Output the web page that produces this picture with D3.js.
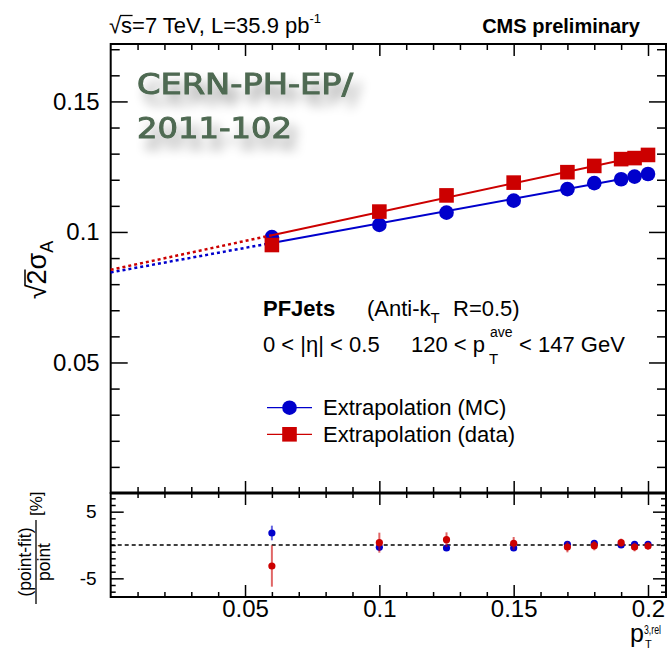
<!DOCTYPE html>
<html><head><meta charset="utf-8">
<script src="https://cdn.jsdelivr.net/npm/d3@7"></script>
<style>
body{margin:0;background:#fff}
svg{display:block}
text{font-family:"Liberation Sans",Arial,Helvetica,sans-serif;fill:#000}
</style>
</head><body>
<svg id="c" width="667" height="653"></svg>
<script>
// ---------------- data ----------------
const ptBins      = [0.06, 0.1, 0.125, 0.15, 0.17, 0.18, 0.19, 0.195, 0.2];
const mcValues    = [0.0980, 0.1027, 0.1074, 0.1120, 0.1164, 0.1187, 0.1202, 0.1212, 0.1222];
const dataValues  = [0.0950, 0.1078, 0.1140, 0.1189, 0.1229, 0.1253, 0.1279, 0.1283, 0.1295];
const mcFit       = [0.0845, 0.188];   // intercept, slope
const dataFit     = [0.0855, 0.221];
const fitRange    = [0.06, 0.2];
const mcResid     = [1.8, -0.35, -0.45, -0.45, 0.1, 0.25, 0.0, 0.1, 0.1];
const mcResidErr  = [1.1, 0.5, 0.4, 0.35, 0.3, 0.3, 0.3, 0.3, 0.3];
const dataResid   = [-3.15, 0.35, 0.8, 0.25, -0.3, -0.1, 0.35, -0.3, -0.15];
const dataResidErr= [3.1, 1.5, 1.1, 0.95, 0.8, 0.7, 0.6, 0.65, 0.55];
const xTickLabels    = [0.05, 0.1, 0.15, 0.2];
const yTopTickLabels = [0.05, 0.1, 0.15];
const yBotTickLabels = [-5, 5];
const legendLabels   = ["Extrapolation (MC)", "Extrapolation (data)"];

// ---------------- layout ----------------
const svg = d3.select("#c");
const X0 = 110.7, X1 = 666;
const TOP0 = 44, SPLIT = 493, BOT1 = 597;
const BLUE = "#0000cc", RED = "#cc0000";

const x = d3.scaleLinear().domain([0, 0.2067]).range([X0, X1]);
const yTop = d3.scaleLinear().domain([0, 0.172]).range([SPLIT, TOP0]);
const yBot = d3.scaleLinear().domain([-7.8, 7.8]).range([BOT1, SPLIT]);

const xMinor = d3.range(0.01, 0.2065, 0.01).filter(v => Math.abs(v*20 - Math.round(v*20)) > 1e-6);
const yTopMinor = d3.range(0.01, 0.1715, 0.01).filter(v => Math.abs(v*20 - Math.round(v*20)) > 1e-6);
const yBotMinor = d3.range(-7, 7.5, 1).filter(v => v % 5 !== 0 || v === 0);

// defs: watermark shadow
const defs = svg.append("defs");
const f = defs.append("filter").attr("id","sh").attr("x","-30%").attr("y","-60%").attr("width","160%").attr("height","260%");
f.append("feGaussianBlur").attr("in","SourceAlpha").attr("stdDeviation",6).attr("result","b");
f.append("feOffset").attr("in","b").attr("dx",7).attr("dy",10).attr("result","o");
f.append("feComponentTransfer").attr("in","o").attr("result","o2")
  .append("feFuncA").attr("type","linear").attr("slope",0.38);
const fm = f.append("feMerge");
fm.append("feMergeNode").attr("in","o2");
fm.append("feMergeNode").attr("in","SourceGraphic");

function axisStyle(g){
  g.select(".domain").remove();
  g.selectAll(".tick line").attr("stroke","#000").attr("stroke-width",1.5);
}
function addAxis(axis, tr, fontSize){
  const g = svg.append("g").attr("transform", tr).call(axis).call(axisStyle);
  g.attr("font-family", null).attr("font-size", null);
  g.selectAll("text").attr("font-size", fontSize);
  return g;
}
// ---- top panel axes ----
addAxis(d3.axisLeft(yTop).tickValues(yTopTickLabels).tickSize(-17).tickPadding(11).tickFormat(d=>String(d)), `translate(${X0},0)`, 24);
addAxis(d3.axisLeft(yTop).tickValues(yTopMinor).tickSize(-9).tickFormat(""), `translate(${X0},0)`, 0);
addAxis(d3.axisRight(yTop).tickValues(yTopTickLabels).tickSize(-17).tickFormat(""), `translate(${X1},0)`, 0);
addAxis(d3.axisRight(yTop).tickValues(yTopMinor).tickSize(-9).tickFormat(""), `translate(${X1},0)`, 0);
addAxis(d3.axisTop(x).tickValues(xTickLabels).tickSize(-12).tickFormat(""), `translate(0,${TOP0})`, 0);
addAxis(d3.axisTop(x).tickValues(xMinor).tickSize(-6).tickFormat(""), `translate(0,${TOP0})`, 0);
addAxis(d3.axisBottom(x).tickValues(xTickLabels).tickSize(-12).tickFormat(""), `translate(0,${SPLIT})`, 0);
addAxis(d3.axisBottom(x).tickValues(xMinor).tickSize(-6).tickFormat(""), `translate(0,${SPLIT})`, 0);

// ---- bottom panel axes ----
addAxis(d3.axisLeft(yBot).tickValues(yBotTickLabels).tickSize(-13).tickPadding(14).tickFormat(d=>String(d)), `translate(${X0},0)`, 19);
addAxis(d3.axisLeft(yBot).tickValues(yBotMinor).tickSize(-5).tickFormat(""), `translate(${X0},0)`, 0);
addAxis(d3.axisRight(yBot).tickValues(yBotTickLabels).tickSize(-13).tickFormat(""), `translate(${X1},0)`, 0);
addAxis(d3.axisRight(yBot).tickValues(yBotMinor).tickSize(-5).tickFormat(""), `translate(${X1},0)`, 0);
addAxis(d3.axisTop(x).tickValues(xTickLabels).tickSize(-12).tickFormat(""), `translate(0,${SPLIT})`, 0);
addAxis(d3.axisTop(x).tickValues(xMinor).tickSize(-5).tickFormat(""), `translate(0,${SPLIT})`, 0);
addAxis(d3.axisBottom(x).tickValues(xTickLabels).tickSize(-12).tickPadding(3).tickFormat(d=>String(d)), `translate(0,${BOT1})`, 24);
addAxis(d3.axisBottom(x).tickValues(xMinor).tickSize(-5).tickFormat(""), `translate(0,${BOT1})`, 0);

// frames
svg.append("rect").attr("x",X0).attr("y",TOP0).attr("width",X1-X0).attr("height",SPLIT-TOP0)
  .attr("fill","none").attr("stroke","#000").attr("stroke-width",2);
svg.append("rect").attr("x",X0).attr("y",SPLIT).attr("width",X1-X0).attr("height",BOT1-SPLIT)
  .attr("fill","none").attr("stroke","#000").attr("stroke-width",2);
svg.append("line").attr("x1",X0).attr("x2",X1).attr("y1",SPLIT).attr("y2",SPLIT).attr("stroke","#000").attr("stroke-width",3);

// ---- watermark ----
const wm = svg.append("g").attr("filter","url(#sh)");
[["CERN-PH-EP/",94,216],["2011-102",138,155]].forEach(([s,yy,len])=>{
  wm.append("text").attr("x",137).attr("y",yy).attr("font-size",28)
    .style("font-family","'DejaVu Sans',sans-serif").style("fill","#4f6a52")
    .attr("stroke","#4f6a52").attr("stroke-width",1.0)
    .attr("textLength",len).attr("lengthAdjust","spacingAndGlyphs").text(s);
});

// ---- fit lines ----
function fitVal(p, xv){ return p[0] + p[1]*xv; }
function drawFit(p, color){
  svg.append("line").attr("x1",x(0)).attr("y1",yTop(fitVal(p,0)))
    .attr("x2",x(fitRange[0])).attr("y2",yTop(fitVal(p,fitRange[0])))
    .attr("stroke",color).attr("stroke-width",2.5).attr("stroke-dasharray","3,3");
  svg.append("line").attr("x1",x(fitRange[0])).attr("y1",yTop(fitVal(p,fitRange[0])))
    .attr("x2",x(fitRange[1])).attr("y2",yTop(fitVal(p,fitRange[1])))
    .attr("stroke",color).attr("stroke-width",2);
}
drawFit(mcFit, BLUE);
svg.append("g").selectAll("circle").data(ptBins).join("circle")
  .attr("cx",d=>x(d)).attr("cy",(d,i)=>yTop(mcValues[i])).attr("r",7.3).attr("fill",BLUE);
drawFit(dataFit, RED);
svg.append("g").selectAll("rect").data(ptBins).join("rect")
  .attr("x",d=>x(d)-7.3).attr("y",(d,i)=>yTop(dataValues[i])-7.3)
  .attr("width",14.6).attr("height",14.6).attr("fill",RED);

// ---- residual panel ----
svg.append("line").attr("x1",X0).attr("x2",X1).attr("y1",yBot(0)).attr("y2",yBot(0))
  .attr("stroke","#000").attr("stroke-width",1.3).attr("stroke-dasharray","4,3");
function drawResid(vals, errs, color){
  const g = svg.append("g");
  g.selectAll("line").data(ptBins).join("line")
    .attr("x1",d=>x(d)).attr("x2",d=>x(d))
    .attr("y1",(d,i)=>yBot(vals[i]-errs[i])).attr("y2",(d,i)=>yBot(vals[i]+errs[i]))
    .attr("stroke",color).attr("stroke-opacity",0.6).attr("stroke-width",2);
  g.selectAll("circle").data(ptBins).join("circle")
    .attr("cx",d=>x(d)).attr("cy",(d,i)=>yBot(vals[i])).attr("r",3.6).attr("fill",color);
}
drawResid(mcResid, mcResidErr, BLUE);
drawResid(dataResid, dataResidErr, RED);

// ---- header ----
const hl = svg.append("text").attr("x",109).attr("y",33).attr("font-size",22);
hl.append("tspan").text("√s=7 TeV, L=35.9 pb");
hl.append("tspan").attr("font-size",13).attr("dy",-10).attr("dx",0).text("-1");
{
  const n = hl.node();
  const s0 = n.getStartPositionOfChar(1), e0 = n.getEndPositionOfChar(1);
  svg.append("line").attr("x1",s0.x-1).attr("x2",e0.x+0.5).attr("y1",15.5).attr("y2",15.5)
    .attr("stroke","#000").attr("stroke-width",1.3);
}
svg.append("text").attr("x",640).attr("y",33).attr("font-size",20).attr("font-weight","bold")
  .attr("text-anchor","end").text("CMS preliminary");

// ---- y title top ----
{
  const g = svg.append("g").attr("transform","translate(46,270) rotate(-90)");
  const t = g.append("text").attr("text-anchor","middle").attr("font-size",27);
  t.append("tspan").text("√2σ");
  t.append("tspan").attr("font-size",18).attr("dy",7).text("A");
  const n = t.node();
  const s = n.getStartPositionOfChar(1), e = n.getEndPositionOfChar(1);
  g.append("line").attr("x1",s.x-1).attr("x2",e.x).attr("y1",-21).attr("y2",-21)
    .attr("stroke","#000").attr("stroke-width",1.5);
}

// ---- y title bottom (fraction) ----
{
  const g = svg.append("g").attr("transform","translate(36,562) rotate(-90)");
  g.append("text").attr("text-anchor","middle").attr("y",-5).attr("font-size",17.5).text("(point-fit)");
  g.append("text").attr("text-anchor","middle").attr("y",14).attr("font-size",17.5).text("point");
  g.append("line").attr("x1",-42).attr("x2",42).attr("y1",0).attr("y2",0).attr("stroke","#000").attr("stroke-width",1.3);
  g.append("text").attr("x",46).attr("y",6).attr("font-size",17).text("[%]");
}

// ---- x title ----
{
  svg.append("text").attr("font-size",25).attr("x",630).attr("y",642).text("p");
  svg.append("text").attr("font-size",13).attr("x",644).attr("y",634)
    .attr("textLength",17).attr("lengthAdjust","spacingAndGlyphs").text("3,rel");
  svg.append("text").attr("font-size",11).attr("x",645).attr("y",648).text("T");
}

// ---- info text ----
{
  const t1 = svg.append("text").attr("x",263).attr("y",316).attr("font-size",22);
  t1.append("tspan").attr("font-weight","bold").text("PFJets");
  t1.append("tspan").attr("x",367).text("(Anti-k");
  t1.append("tspan").attr("font-size",15).attr("dy",7).text("T");
  t1.append("tspan").attr("dy",-7).attr("x",453).text("R=0.5)");
  const t2 = svg.append("text").attr("x",263).attr("y",352).attr("font-size",22);
  t2.append("tspan").text("0 < |η| < 0.5");
  t2.append("tspan").attr("x",411).text("120 < p");
  t2.append("tspan").attr("x",490).attr("y",337).attr("font-size",14).text("ave");
  t2.append("tspan").attr("x",489).attr("y",364).attr("font-size",15).text("T");
  t2.append("tspan").attr("x",519).attr("y",352).text("< 147 GeV");
}

// ---- legend ----
{
  const ly = [407.7, 434.3];
  const g = svg.append("g");
  g.append("line").attr("x1",267).attr("x2",312).attr("y1",ly[0]).attr("y2",ly[0]).attr("stroke",BLUE).attr("stroke-width",1.3);
  g.append("circle").attr("cx",289.5).attr("cy",ly[0]).attr("r",7.3).attr("fill",BLUE);
  g.append("line").attr("x1",267).attr("x2",312).attr("y1",ly[1]).attr("y2",ly[1]).attr("stroke",RED).attr("stroke-width",1.3);
  g.append("rect").attr("x",289.5-7.3).attr("y",ly[1]-7.3).attr("width",14.6).attr("height",14.6).attr("fill",RED);
  g.selectAll("text.lg").data(legendLabels).join("text").attr("class","lg")
    .attr("x",323).attr("y",(d,i)=>ly[i]+7.5).attr("font-size",22).text(d=>d);
}
</script>
</body></html>
